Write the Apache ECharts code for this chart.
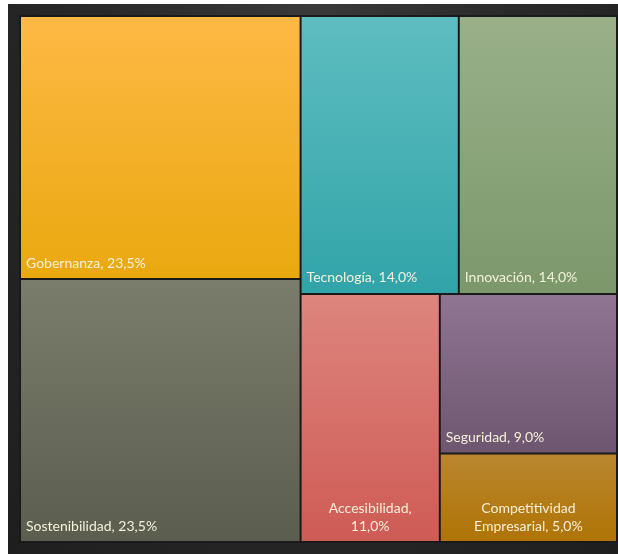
<!DOCTYPE html>
<html>
<head>
<meta charset="utf-8">
<script src="https://cdn.jsdelivr.net/npm/echarts@6/dist/echarts.min.js"></script>
<style>
  html, body { margin: 0; padding: 0; background: #ffffff; width: 618px; height: 554px; overflow: hidden; }
  #frame { position: absolute; left: 8px; top: 4px; width: 610px; height: 550px;
    background: radial-gradient(ellipse at 50% 0%, #3a3a3a 0%, #2a2a2a 45%, #1e1e1e 100%); }
  #chart { width: 610px; height: 550px; }
</style>
</head>
<body>
<div id="frame"><div id="chart"></div></div>
<script>
// Data
const categories = ['Gobernanza', 'Sostenibilidad', 'Tecnología', 'Innovación', 'Accesibilidad', 'Seguridad', 'Competitividad Empresarial'];
const shares = [23.5, 23.5, 14.0, 14.0, 11.0, 9.0, 5.0];
const labelTexts = ['Gobernanza, ', 'Sostenibilidad, ', 'Tecnología, ', 'Innovación, ', 'Accesibilidad,\n', 'Seguridad, ', 'Competitividad\nEmpresarial, '];
const twoLine = [false, false, false, false, true, false, true];
const topColors = ['#FDB945', '#7A7D6C', '#5EBDC0', '#99B089', '#DD857E', '#8F7591', '#B9862F'];
const bottomColors = ['#EAA80F', '#5B5E4E', '#31A4A9', '#7C986B', '#CF5B55', '#6E5570', '#B07406'];

const fmt = v => v.toFixed(1).replace('.', ',') + '%';

const data = categories.map((name, i) => {
  const item = {
    name: name,
    value: shares[i],
    itemStyle: {
      color: new echarts.graphic.LinearGradient(0, 0, 0, 1, [
        { offset: 0, color: topColors[i] },
        { offset: 1, color: bottomColors[i] }
      ])
    },
    label: {
      formatter: labelTexts[i] + fmt(shares[i])
    }
  };
  if (twoLine[i]) {
    item.label.position = 'insideBottom';
    item.label.align = 'center';
    item.label.lineHeight = 18;
    item.label.overflow = 'none';
    item.label.padding = [0, 0, 6, 0];
  }
  return item;
});

const chart = echarts.init(document.getElementById('chart'), null, { renderer: 'canvas' });
chart.setOption({
  animation: false,
  series: [{
    type: 'treemap',
    left: 11, top: 11, width: 599, height: 528,
    roam: false,
    nodeClick: false,
    sort: false,
    breadcrumb: { show: false },
    squareRatio: 1,
    itemStyle: { borderColor: '#1a1a1a', borderWidth: 1, gapWidth: 0 },
    label: {
      show: true,
      position: 'insideBottomLeft',
      color: '#F4F0DA',
      fontFamily: 'Lato',
      fontSize: 14,
      padding: [0, 0, 6, 5],
      lineHeight: 18
    },
    upperLabel: { show: false },
    emphasis: { disabled: true },
    data: data
  }]
});
</script>
</body>
</html>
